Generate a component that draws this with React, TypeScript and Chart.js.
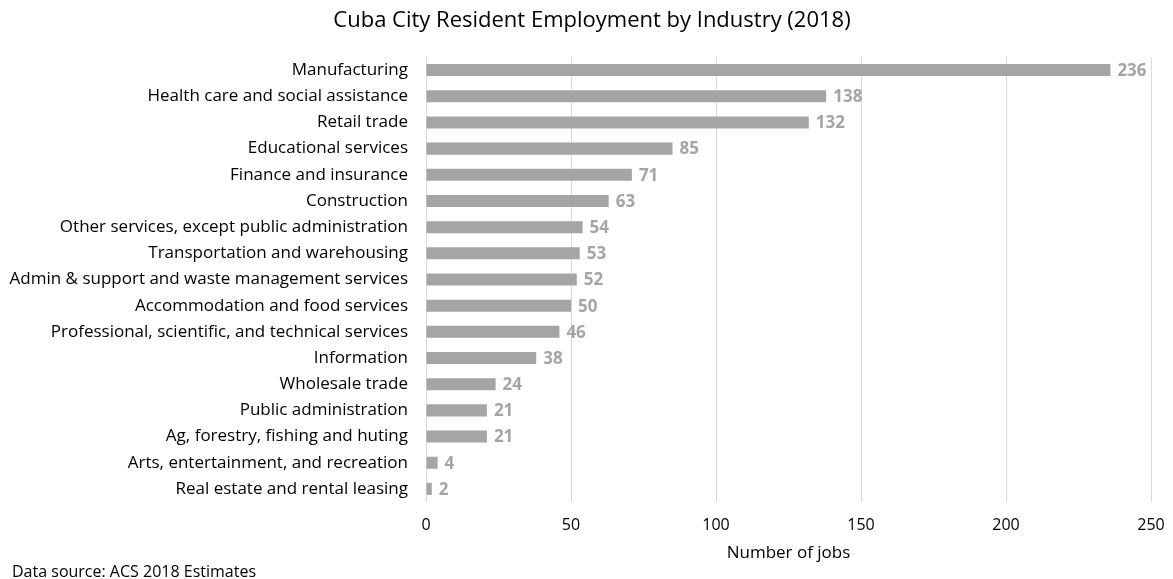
import React, { useEffect, useRef } from "react";
import { Chart, registerables } from "chart.js";

Chart.register(...registerables);

const categories: string[] = [
  "Manufacturing",
  "Health care and social assistance",
  "Retail trade",
  "Educational services",
  "Finance and insurance",
  "Construction",
  "Other services, except public administration",
  "Transportation and warehousing",
  "Admin & support and waste management services",
  "Accommodation and food services",
  "Professional, scientific, and technical services",
  "Information",
  "Wholesale trade",
  "Public administration",
  "Ag, forestry, fishing and huting",
  "Arts, entertainment, and recreation",
  "Real estate and rental leasing",
];

const jobs: number[] = [236, 138, 132, 85, 71, 63, 54, 53, 52, 50, 46, 38, 24, 21, 21, 4, 2];

const xTicks: number[] = [0, 50, 100, 150, 200, 250];

const titleText = "Cuba City Resident Employment by Industry (2018)";
const xAxisTitle = "Number of jobs";
const footnote = "Data source: ACS 2018 Estimates";

const FONT = "'Open Sans', 'Noto Sans', sans-serif";
const BAR = "#a5a5a5";

const labelPlugin = {
  id: "valueLabels",
  afterDatasetsDraw(chart: any) {
    const ctx = chart.ctx;
    const meta = chart.getDatasetMeta(0);
    ctx.save();
    ctx.font = `bold 17px ${FONT}`;
    ctx.fillStyle = BAR;
    ctx.textAlign = "left";
    ctx.textBaseline = "middle";
    meta.data.forEach((bar: any, i: number) => {
      ctx.fillText(String(jobs[i]), bar.x + 7, bar.y + 1);
    });
    ctx.restore();
  },
};

const textPlugin = {
  id: "texts",
  afterDraw(chart: any) {
    const ctx = chart.ctx;
    ctx.save();
    ctx.fillStyle = "#000";
    ctx.textBaseline = "middle";
    ctx.font = `22px ${FONT}`;
    ctx.textAlign = "center";
    ctx.fillText(titleText, 592, 21);
    ctx.font = `16px ${FONT}`;
    ctx.textAlign = "left";
    ctx.fillText(footnote, 12, 572);
    ctx.restore();
  },
};

export default function App() {
  const ref = useRef<HTMLCanvasElement | null>(null);

  useEffect(() => {
    document.body.style.margin = "0";
    if (!ref.current) return;
    const chart = new Chart(ref.current, {
      type: "bar",
      data: {
        labels: categories,
        datasets: [
          {
            data: jobs,
            backgroundColor: BAR,
            barPercentage: 0.46,
            categoryPercentage: 1,
          },
        ],
      },
      options: {
        indexAxis: "y",
        animation: false,
        responsive: false,
        layout: { padding: { left: 0, right: 22, top: 57, bottom: 16 } },
        plugins: {
          legend: { display: false },
          tooltip: { enabled: false },
          title: { display: false },
        },
        scales: {
          x: {
            min: 0,
            max: 250,
            afterBuildTicks: (scale: any) => {
              scale.ticks = xTicks.map((v) => ({ value: v }));
            },
            afterFit: (scale: any) => {
              scale.height = 61;
              scale.paddingLeft = 0;
              scale.paddingRight = 0;
            },
            grid: { color: "#d9d9d9", drawTicks: false, lineWidth: 1 },
            border: { display: false },
            ticks: {
              color: "#000",
              font: { family: FONT, size: 16 },
              padding: 14,
            },
            title: {
              display: true,
              text: xAxisTitle,
              color: "#000",
              font: { family: FONT, size: 17 },
              padding: { top: 0, bottom: 0 },
            },
          },
          y: {
            afterFit: (scale: any) => {
              scale.width = 426;
              scale.paddingTop = 0;
              scale.paddingBottom = 0;
            },
            grid: { display: false, drawTicks: false },
            border: { display: false },
            ticks: {
              color: "#000",
              font: { family: FONT, size: 17 },
              padding: 18,
              autoSkip: false,
            },
          },
        },
      },
      plugins: [labelPlugin, textPlugin],
    } as any);
    return () => chart.destroy();
  }, []);

  return <canvas ref={ref} width={1173} height={579} style={{ display: "block" }} />;
}
